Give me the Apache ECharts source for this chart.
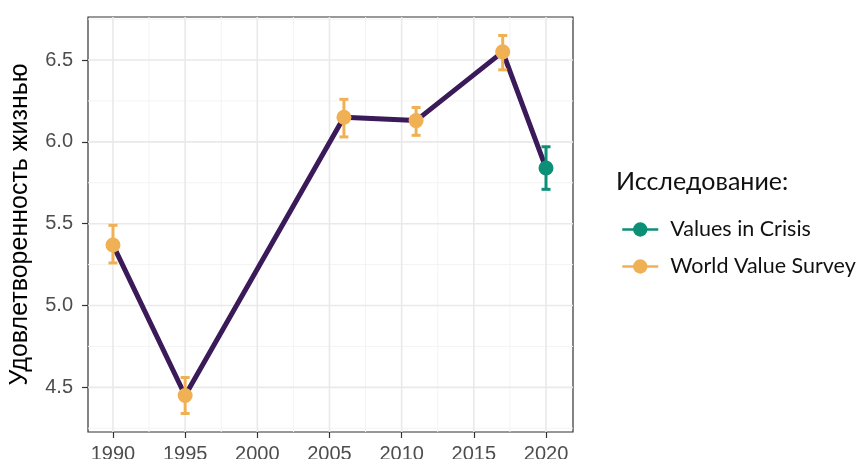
<!DOCTYPE html>
<html>
<head>
<meta charset="utf-8">
<script src="https://cdn.jsdelivr.net/npm/echarts@6/dist/echarts.min.js"></script>
<style>
  html, body { margin: 0; padding: 0; background: #fff; }
  #chart { width: 859px; height: 459px; }
</style>
</head>
<body>
<div id="chart"></div>
<script>
// Survey waves: year, mean life satisfaction and its confidence interval
const years  = [1990, 1995, 2006, 2011, 2017, 2020];
const means  = [5.37, 4.45, 6.15, 6.13, 6.55, 5.84];
const lower  = [5.26, 4.34, 6.03, 6.04, 6.44, 5.71];
const upper  = [5.49, 4.56, 6.26, 6.21, 6.65, 5.97];
const survey = ['World Value Survey', 'World Value Survey', 'World Value Survey',
                'World Value Survey', 'World Value Survey', 'Values in Crisis'];

// Legend order and axis breaks
const surveyNames = ['Values in Crisis', 'World Value Survey'];
const xTicks = [1990, 1995, 2000, 2005, 2010, 2015, 2020];
const xMinor = [1992.5, 1997.5, 2002.5, 2007.5, 2012.5, 2017.5];
const yTicks = [4.5, 5.0, 5.5, 6.0, 6.5];
const yMinor = [4.25, 4.75, 5.25, 5.75, 6.25, 6.75];

const colors = { 'Values in Crisis': '#0b8f77', 'World Value Survey': '#f0b155' };
const lineColor = '#3a1a58';
const tickFont = 'Liberation Sans, Arial, sans-serif';
const legendFont = 'Lato, "Noto Sans", sans-serif';

const chart = echarts.init(document.getElementById('chart'), null, { renderer: 'canvas' });

const allPoints = years.map((y, i) => [y, means[i]]);

// Panel grid lines: [value, axis (0 = x, 1 = y), major flag]
const gridData = []
  .concat(xMinor.map(v => [v, 0, 0]))
  .concat(yMinor.map(v => [v, 1, 0]))
  .concat(xTicks.map(v => [v, 0, 1]))
  .concat(yTicks.map(v => [v, 1, 1]));

const series = [
  {
    name: 'panel-grid',
    type: 'custom',
    z: 0,
    silent: true,
    clip: true,
    data: gridData,
    renderItem: function (params, api) {
      const v = api.value(0);
      const isY = api.value(1) === 1;
      const major = api.value(2) === 1;
      const cs = params.coordSys;
      const style = { stroke: major ? '#e9e9e9' : '#f3f3f3', lineWidth: major ? 1.6 : 1 };
      let shape;
      if (isY) {
        const p = api.coord([1990, v]);
        shape = { x1: cs.x, y1: p[1], x2: cs.x + cs.width, y2: p[1] };
      } else {
        const p = api.coord([v, 5]);
        shape = { x1: p[0], y1: cs.y, x2: p[0], y2: cs.y + cs.height };
      }
      return { type: 'line', shape: shape, style: style };
    }
  },
  {
    name: 'trend',
    type: 'line',
    data: allPoints,
    showSymbol: false,
    lineStyle: { color: lineColor, width: 5 },
    z: 2,
    silent: true
  },
  {
    name: 'errors',
    type: 'custom',
    z: 3,
    silent: true,
    data: years.map((y, i) => [y, lower[i], upper[i], i]),
    renderItem: function (params, api) {
      const x = api.value(0);
      const lo = api.coord([x, api.value(1)]);
      const hi = api.coord([x, api.value(2)]);
      const col = colors[survey[api.value(3)]];
      const half = 4.5;
      const style = { stroke: col, lineWidth: 3 };
      return {
        type: 'group',
        children: [
          { type: 'line', shape: { x1: lo[0], y1: lo[1], x2: hi[0], y2: hi[1] }, style: style },
          { type: 'line', shape: { x1: hi[0] - half, y1: hi[1], x2: hi[0] + half, y2: hi[1] }, style: style },
          { type: 'line', shape: { x1: lo[0] - half, y1: lo[1], x2: lo[0] + half, y2: lo[1] }, style: style }
        ]
      };
    }
  }
];

// Points for each survey, carried by line series so the legend shows line + dot
surveyNames.forEach(name => {
  series.push({
    name: name,
    type: 'line',
    data: years.map((y, i) => survey[i] === name ? [y, means[i]] : null).filter(d => d),
    symbol: 'circle',
    symbolSize: 15,
    itemStyle: { color: colors[name] },
    lineStyle: { width: 0, color: colors[name] },
    z: 4,
    silent: true
  });
});

chart.setOption({
  animation: false,
  backgroundColor: '#fff',
  grid: {
    left: 88, top: 17, right: 286, bottom: 27,
    outerBoundsMode: 'none',
    containLabel: false,
    show: true, borderColor: '#333', borderWidth: 1.2, backgroundColor: 'transparent'
  },
  title: {
    text: 'Исследование:',
    left: 611, top: 164,
    textStyle: { fontFamily: legendFont, fontSize: 25, fontWeight: 'normal', color: '#111' }
  },
  legend: {
    orient: 'vertical',
    left: 616, top: 212,
    itemWidth: 36, itemHeight: 18, itemGap: 12,
    textStyle: { fontFamily: legendFont, fontSize: 21.5, lineHeight: 25, color: '#111', padding: [0, 0, 0, 7] },
    data: surveyNames.map(n => ({
      name: n,
      itemStyle: { color: colors[n] },
      lineStyle: { width: 2.5, color: colors[n], opacity: 1 }
    }))
  },
  xAxis: {
    type: 'value',
    min: 1988.27, max: 2021.87,
    axisLine: { show: false },
    splitLine: { show: false },
    axisTick: { show: true, length: 6, lineStyle: { color: '#333', width: 1.2 }, customValues: xTicks },
    axisLabel: {
      customValues: xTicks,
      fontFamily: tickFont, fontSize: 20, color: '#4d4d4d', margin: 12,
      formatter: v => String(v)
    }
  },
  yAxis: {
    type: 'value',
    min: 4.227, max: 6.763,
    name: 'Удовлетворенность жизнью',
    nameLocation: 'middle',
    nameGap: 55,
    nameTextStyle: { fontFamily: tickFont, fontSize: 25, color: '#000' },
    axisLine: { show: false },
    splitLine: { show: false },
    axisTick: { show: true, length: 6, lineStyle: { color: '#333', width: 1.2 }, customValues: yTicks },
    axisLabel: {
      customValues: yTicks,
      fontFamily: tickFont, fontSize: 20, color: '#4d4d4d', margin: 15,
      formatter: v => v.toFixed(1)
    }
  },
  series: series
});
</script>
</body>
</html>
